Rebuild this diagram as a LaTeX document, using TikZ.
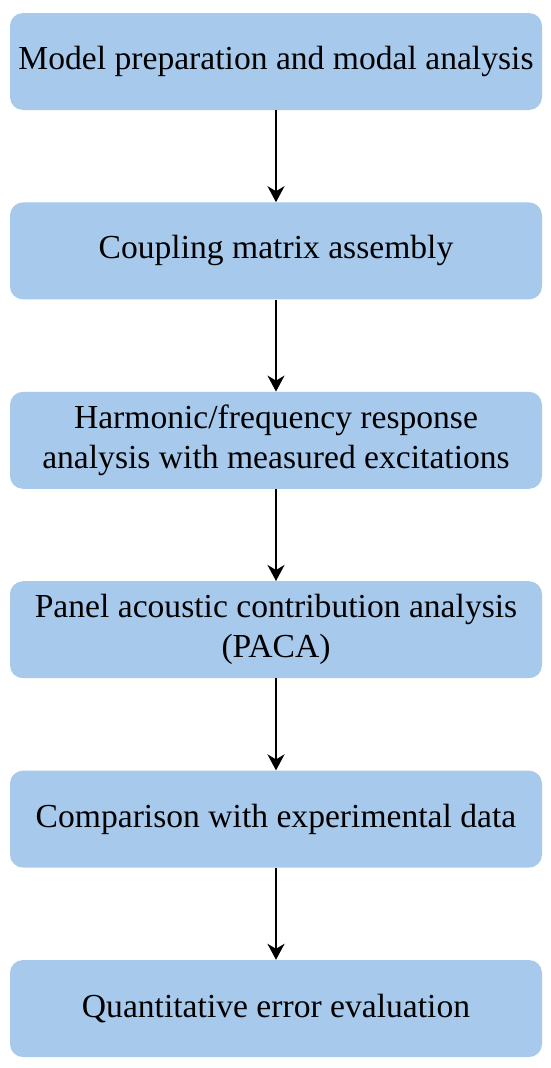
\documentclass[tikz,border=0pt]{standalone}
\usepackage{fontspec}
\setmainfont{Liberation Serif}
\usepackage{xcolor}
\usepackage{tikz}
\usetikzlibrary{arrows.meta,positioning}
\definecolor{boxblue}{RGB}{167,201,236}

\begin{document}
\begin{tikzpicture}[
  node distance=92pt,
  stepbox/.style={rectangle,fill=boxblue,minimum width=532pt,minimum height=97pt,align=center,rounded corners=13pt,inner sep=2pt,font=\fontsize{33.6}{40}\selectfont},
  arrow/.style={-{Stealth[length=16pt,width=17pt,inset=5pt]},line width=2.2pt,black}
]
\useasboundingbox (0,0) rectangle (550pt,-1068pt);
\node[stepbox] (prep) at (276pt,-61.5pt) {Model preparation and modal analysis};
\node[stepbox, below=of prep] (coupling) {Coupling matrix assembly};
\node[stepbox, below=of coupling] (harmonic) {Harmonic/frequency response\\ analysis with measured excitations};
\node[stepbox, below=of harmonic] (paca) {Panel acoustic contribution analysis\\ (PACA)};
\node[stepbox, below=of paca] (compare) {Comparison with experimental data};
\node[stepbox, below=of compare] (error) {Quantitative error evaluation};
\draw[arrow] (prep) -- (coupling);
\draw[arrow] (coupling) -- (harmonic);
\draw[arrow] (harmonic) -- (paca);
\draw[arrow] (paca) -- (compare);
\draw[arrow] (compare) -- (error);
\end{tikzpicture}
\end{document}
